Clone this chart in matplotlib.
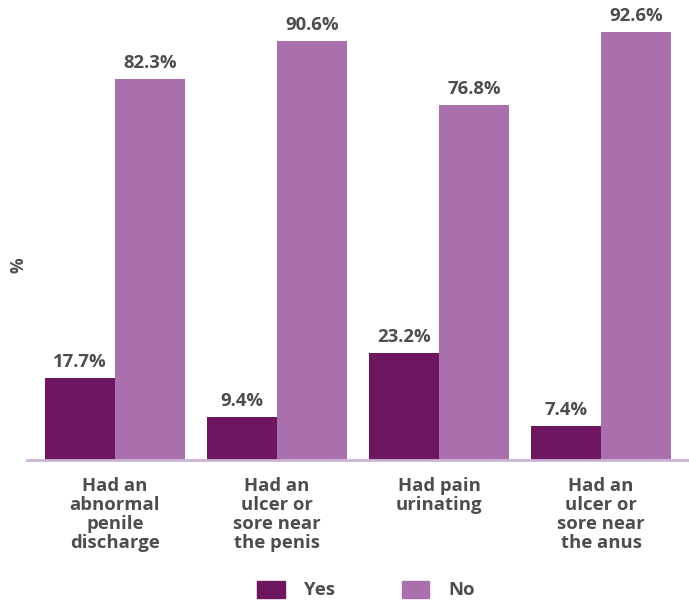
import numpy as np
import matplotlib.pyplot as plt
from matplotlib.patches import Patch

plt.rcParams['font.family'] = ['Open Sans', 'DejaVu Sans']

# data
categories = ["Had an\nabnormal\npenile\ndischarge",
              "Had an\nulcer or\nsore near\nthe penis",
              "Had pain\nurinating",
              "Had an\nulcer or\nsore near\nthe anus"]
yes_vals = [17.7, 9.4, 23.2, 7.4]
no_vals = [82.3, 90.6, 76.8, 92.6]

dark = "#6f1660"
light = "#aa70ae"
txt = "#4d4d4d"

fig = plt.figure(figsize=(6.89, 6.02), dpi=100)
ax = fig.add_axes([27/689, 142/602, 662/689, 450/602])

x = np.arange(len(categories))
w = 0.432
b1 = ax.bar(x - w/2, yes_vals, w, color=dark)
b2 = ax.bar(x + w/2, no_vals, w, color=light)

for bars, vals in [(b1, yes_vals), (b2, no_vals)]:
    for r, v in zip(bars, vals):
        ax.annotate(f"{v}%", (r.get_x() + r.get_width()/2, v),
                    xytext=(0, 5), textcoords="offset points",
                    ha="center", va="bottom", fontsize=13.3,
                    fontweight="bold", color=txt)

ax.set_xlim(-0.543, 3.543)
ax.set_ylim(0, 97.3)
ax.set_yticks([])
ax.set_xticks([])
for s in ["top", "right", "left"]:
    ax.spines[s].set_visible(False)
ax.spines["bottom"].set_color("#cbb3d5")
ax.spines["bottom"].set_linewidth(2)

for xi, c in zip(x, categories):
    ax.text(xi, -3.6, c, ha="center", va="top", fontsize=13.3,
            fontweight="bold", color=txt, linespacing=1.07,
            transform=ax.transData)

fig.text(18/689, 1 - 265/602, "%", rotation=90, ha="center", va="center",
         fontsize=12.5, fontweight="bold", color=txt)

handles = [Patch(color=dark, label="Yes"), Patch(color=light, label="No")]
fig.legend(handles=handles, loc="center", bbox_to_anchor=(366/689, 1 - 590/602),
           ncol=2, frameon=False, prop={"weight": "bold", "size": 13.3},
           handlelength=1.5, handleheight=1.05, handletextpad=1.05,
           columnspacing=3.6, labelcolor=txt)

fig.savefig("out.png", dpi=100)
